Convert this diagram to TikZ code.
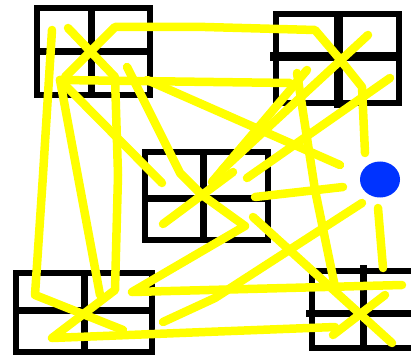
\documentclass[tikz,border=0pt]{standalone}
\definecolor{ylw}{RGB}{255,255,0}
\definecolor{blu}{RGB}{0,51,255}
\begin{document}
\begin{tikzpicture}[x=1pt,y=-1pt,
  frame/.style={draw=black,line width=6pt},
  divider/.style={draw=black,line width=7pt},
  stroke/.style={draw=ylw,line width=8.5pt,line cap=round,line join=round}]
\useasboundingbox (0,0) rectangle (411,355);
% boxes
\draw[frame] (37,8) rectangle (150,95);
\draw[divider] (91,8) -- (91,97);
\draw[divider] (37,52) -- (150,52);

\draw[frame] (276,14) rectangle (399,103);
\draw[divider,line width=9pt] (338,14) -- (338,108);
\draw[divider,line width=9pt] (270,57) -- (399,57);

\draw[frame] (145,152) rectangle (268,240);
\draw[divider] (203,152) -- (203,240);
\draw[divider] (145,198) -- (268,198);

\draw[frame] (16,273) rectangle (152,352);
\draw[divider] (84,273) -- (84,352);
\draw[divider] (16,310) -- (152,310);

\draw[frame] (312,271) rectangle (425,348);
\draw[divider] (363,265) -- (363,348);
\draw[divider] (306,313) -- (425,313);

% blue dot
\fill[blu] (380,179.5) ellipse [x radius=20, y radius=18];

% yellow strokes
\draw[stroke] (65,77) -- (115,27) -- (205,27) -- (315,30) -- (338,57) -- (362,87) -- (365,153);
\draw[stroke] (68,28) -- (115,77) -- (118,175) -- (115,290) -- (52,338) -- (205,332) -- (335,327);
\draw[stroke] (52,30) -- (43,175) -- (35,295) -- (123,330);
\draw[stroke] (60,80) -- (290,83);
\draw[stroke] (147,80) -- (340,165);
\draw[stroke] (60,80) -- (100,295);
\draw[stroke] (60,80) -- (162,183);
\draw[stroke] (127,67) -- (180,173) -- (202,195) -- (245,226) -- (132,292) -- (402,285);
\draw[stroke] (307,70) -- (212,182);
\draw[stroke] (297,73) -- (315,190) -- (335,287);
\draw[stroke] (368,35) -- (222,170);
\draw[stroke] (163,224) -- (233,172);
\draw[stroke] (390,78) -- (247,178);
\draw[stroke] (255,197) -- (343,187);
\draw[stroke] (253,217) -- (392,343);
\draw[stroke] (163,322) -- (215,298) -- (362,203);
\draw[stroke] (378,208) -- (383,268);
\draw[stroke] (333,335) -- (385,295);
\end{tikzpicture}
\end{document}
